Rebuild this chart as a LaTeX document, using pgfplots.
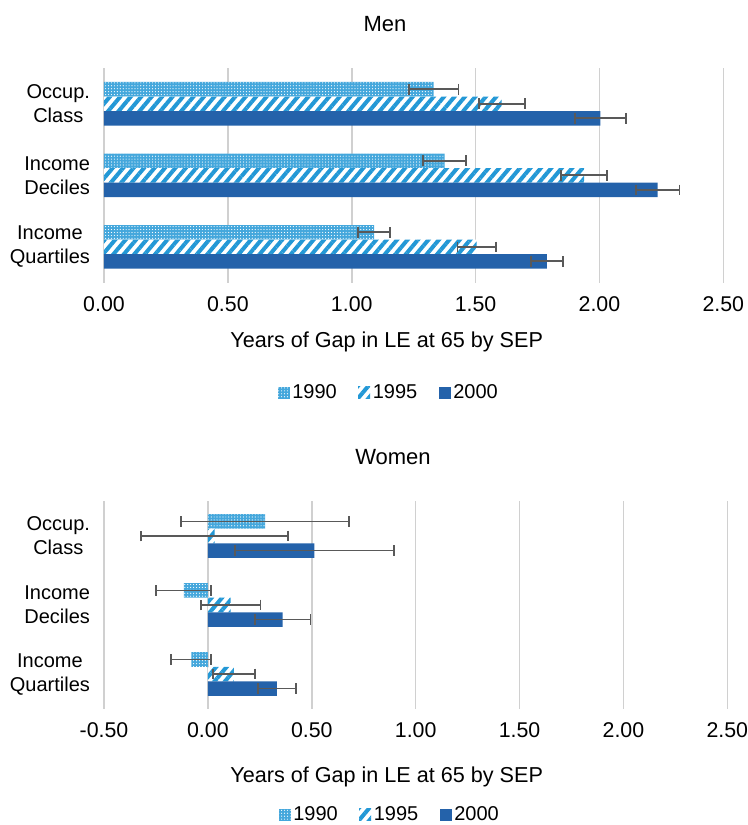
\documentclass[border=0pt]{standalone}
\usepackage{pgfplots}
\pgfplotsset{compat=1.18}
\usepackage{fontspec}
\setmainfont{Liberation Sans}
\usetikzlibrary{patterns.meta}
\definecolor{lb}{HTML}{2398D6}
\definecolor{db}{HTML}{2462AA}
\definecolor{ebc}{HTML}{595959}
\definecolor{gr}{HTML}{D0D0D0}
\pgfplotsset{
  myaxis/.style={
    scale only axis, xbar, bar width=10.9pt,
    axis line style={draw=none}, major tick length=0pt,
    xmajorgrids, grid style={gr, line width=1.2pt},
    ymin=-0.5, ymax=2.5, ytick={0,1,2},
    yticklabels={{Income\\Quartiles},{Income\\Deciles},{Occup.\\Class}},
    yticklabel style={align=center, font=\fontsize{15}{18}\selectfont, xshift=-7pt},
    xticklabel style={font=\fontsize{16}{19}\selectfont, yshift=-7pt},
    /pgf/number format/.cd, fixed, fixed zerofill, precision=2, assume math mode=true,
    /pgfplots/.cd,
    legend columns=3,
    legend style={draw=none, fill=none, font=\fontsize{15}{18}\selectfont, anchor=center,
      /tikz/every even column/.append style={column sep=14pt}},
    legend image code/.code={\draw[#1,draw=none] (0pt,-4.5pt) rectangle (9pt,4.5pt);},
  },
  s90/.style={fill=lb!85!white, draw=none, bar shift=10.9pt,
    postaction={pattern={Dots[distance=2.2pt, radius=0.45pt]}, pattern color=white}},
  s95/.style={fill=white, draw=none, bar shift=0pt,
    postaction={pattern={Lines[angle=50, distance=6pt, line width=3pt]}, pattern color=lb}},
  s00/.style={fill=db, draw=none, bar shift=-10.9pt},
  myeb/.style={error bars/.cd, x dir=both, x explicit, error mark=|,
    error bar style={draw=ebc, line width=1.4pt},
    error mark options={draw=ebc, line width=1.4pt, mark size=4pt}},
}
\begin{document}
\begin{tikzpicture}
\path[use as bounding box] (-78pt,-406.75pt) rectangle (482.25pt,212pt);
% ---------- Men ----------
\begin{axis}[myaxis, at={(0pt,0pt)}, anchor=south west,
  width=464.5pt, height=161pt, xmin=0, xmax=2.5, xtick={0,0.5,...,2.5},
  legend style={at={(axis description cs:0.4602,-0.5137)}}]
\addplot[s90, myeb] coordinates {(1.09,0) +- (0.064,0) (1.375,1) +- (0.087,0) (1.331,2) +- (0.100,0)};
\addplot[s95, myeb] coordinates {(1.504,0) +- (0.077,0) (1.938,1) +- (0.092,0) (1.605,2) +- (0.093,0)};
\addplot[s00, myeb] coordinates {(1.788,0) +- (0.064,0) (2.235,1) +- (0.088,0) (2.004,2) +- (0.103,0)};
\legend{1990,1995,2000}
\end{axis}
% ---------- Women ----------
\begin{axis}[myaxis, at={(0pt,-319.4pt)}, anchor=south west,
  width=467.5pt, height=155.3pt, xmin=-0.5, xmax=2.5, xtick={-0.5,0,...,2.5},
  legend style={at={(axis description cs:0.4589,-0.5138)}}]
\addplot[s90, myeb] coordinates {(-0.080,0) +- (0.096,0) (-0.116,1) +- (0.132,0) (0.275,2) +- (0.403,0)};
\addplot[s95, myeb] coordinates {(0.125,0) +- (0.101,0) (0.110,1) +- (0.143,0) (0.032,2) +- (0.355,0)};
\addplot[s00, myeb] coordinates {(0.332,0) +- (0.092,0) (0.360,1) +- (0.134,0) (0.513,2) +- (0.382,0)};
\legend{1990,1995,2000}
\end{axis}
\node[font=\fontsize{16.5}{19}\selectfont] at (210.75pt,194pt) {Men};
\node[font=\fontsize{16.5}{19}\selectfont] at (216.75pt,-130.7pt) {Women};
\node[anchor=base, font=\fontsize{16.2}{19}\selectfont] at (212pt,-48.6pt) {Years of Gap in LE at 65 by SEP};
\node[anchor=base, font=\fontsize{16.2}{19}\selectfont] at (212pt,-375.2pt) {Years of Gap in LE at 65 by SEP};
\end{tikzpicture}
\end{document}
